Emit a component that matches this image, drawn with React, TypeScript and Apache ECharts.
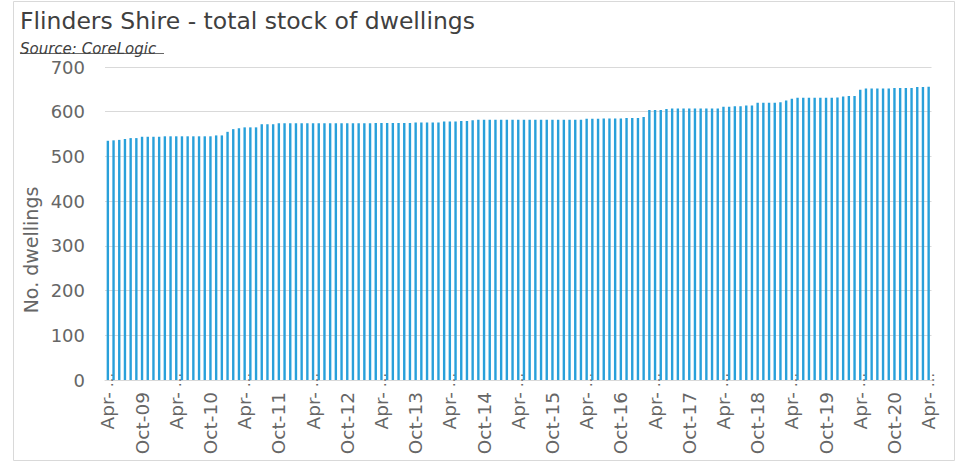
import React, { useEffect, useRef } from "react";
import * as echarts from "echarts";

const TITLE = "Flinders Shire - total stock of dwellings";
const SUBTITLE = "Source: CoreLogic";
const Y_NAME = "No. dwellings";
const MONTHS = ["Jan", "Feb", "Mar", "Apr", "May", "Jun", "Jul", "Aug", "Sep", "Oct", "Nov", "Dec"];
const START_YEAR = 2009;
const START_MONTH = 3; // April
const Y_TICKS = [0, 100, 200, 300, 400, 500, 600, 700];

// Monthly dwelling stock, Apr-09 .. Apr-21
const dwellings: number[] = [
  535, 536, 537, 539, 541, 541, 544, 544, 544, 544,
  545, 545, 545, 545, 545, 545, 545, 545, 545, 547,
  547, 555, 561, 563, 565, 565, 565, 572, 572, 572,
  574, 574, 574, 574, 574, 574, 574, 574, 574, 574,
  574, 574, 574, 574, 574, 574, 574, 575, 575, 575,
  575, 575, 575, 575, 576, 576, 576, 576, 576, 578,
  578, 578, 579, 579, 581, 582, 582, 582, 582, 582,
  582, 582, 582, 582, 582, 582, 582, 582, 582, 582,
  582, 582, 582, 582, 584, 584, 584, 585, 585, 585,
  585, 586, 586, 586, 588, 604, 604, 604, 606, 607,
  607, 607, 607, 607, 607, 607, 607, 607, 611, 611,
  612, 612, 614, 614, 620, 620, 620, 620, 621, 625,
  629, 631, 631, 631, 631, 631, 631, 631, 632, 634,
  635, 635, 649, 652, 652, 652, 652, 652, 653, 653,
  653, 653, 655, 655, 656,
];

const categories: string[] = dwellings.map((_, i) => {
  const m = START_MONTH + i;
  const y = START_YEAR + Math.floor(m / 12);
  return `${MONTHS[m % 12]}-${String(y % 100).padStart(2, "0")}`;
});

const FONT = "DejaVu Sans";

export default function App() {
  const ref = useRef<HTMLDivElement>(null);
  useEffect(() => {
    if (!ref.current) return;
    const chart = echarts.init(ref.current, undefined, { renderer: "svg" });
    chart.setOption({
      animation: false,
      backgroundColor: "#ffffff",
      textStyle: { fontFamily: FONT },
      grid: { left: 105, right: 24.5, top: 67, bottom: 90, containLabel: false },
      graphic: [
        {
          type: "rect",
          shape: { x: 13.5, y: 1.5, width: 941, height: 459 },
          style: { fill: "none", stroke: "#d9d9d9", lineWidth: 1 },
          silent: true,
        },
        {
          type: "text",
          x: 20,
          y: 9,
          style: { text: TITLE, fill: "#404040", font: `23.5px '${FONT}'` },
        },
        {
          type: "text",
          x: 20,
          y: 56.5,
          style: {
            text: SUBTITLE,
            fill: "#404040",
            font: `italic 15px '${FONT}'`,
            verticalAlign: "bottom",
          },
        },
        {
          type: "line",
          shape: { x1: 20, y1: 53.5, x2: 164, y2: 53.5 },
          style: { stroke: "#404040", lineWidth: 0.8 },
        },
        {
          type: "text",
          x: 31,
          y: 250,
          rotation: Math.PI / 2,
          style: {
            text: Y_NAME,
            fill: "#666666",
            font: `19px '${FONT}'`,
            align: "center",
            verticalAlign: "middle",
          },
        },
      ],
      xAxis: [
        {
          type: "category",
          data: categories,
          boundaryGap: true,
          axisTick: { show: false },
          axisLine: { show: true, lineStyle: { color: "#d9d9d9", width: 1 } },
          splitLine: { show: false },
          axisLabel: {
            interval: 5,
            rotate: 90,
            margin: 12,
            color: "#666666",
            fontSize: 18.5,
            fontFamily: FONT,
            formatter: (v: string) => (v.startsWith("Apr") ? "Apr-" : v),
          },
        },
        {
          type: "category",
          data: categories,
          position: "bottom",
          boundaryGap: true,
          axisTick: { show: false },
          axisLine: { show: false },
          splitLine: { show: false },
          axisLabel: {
            interval: 5,
            rotate: 90,
            margin: -7,
            color: "#666666",
            fontSize: 14,
            fontFamily: FONT,
            formatter: (v: string) => (v.startsWith("Apr") ? "…" : ""),
          },
        },
      ],
      yAxis: {
        type: "value",
        min: 0,
        max: 700,
        interval: 100,
        axisLine: { show: false },
        axisTick: { show: false },
        splitLine: { lineStyle: { color: "#d9d9d9", width: 1 } },
        axisLabel: {
          margin: 20,
          color: "#666666",
          fontSize: 18,
          fontFamily: FONT,
          formatter: (v: number) => (Y_TICKS.includes(v) ? String(v) : ""),
        },
      },
      series: [
        {
          type: "bar",
          xAxisIndex: 0,
          data: dwellings,
          barWidth: 2.4,
          itemStyle: { color: "#29a0da" },
        },
      ],
    });
    return () => chart.dispose();
  }, []);
  return (
    <div
      ref={ref}
      style={{ position: "fixed", left: 0, top: 0, width: 956, height: 470, background: "#fff" }}
    />
  );
}
